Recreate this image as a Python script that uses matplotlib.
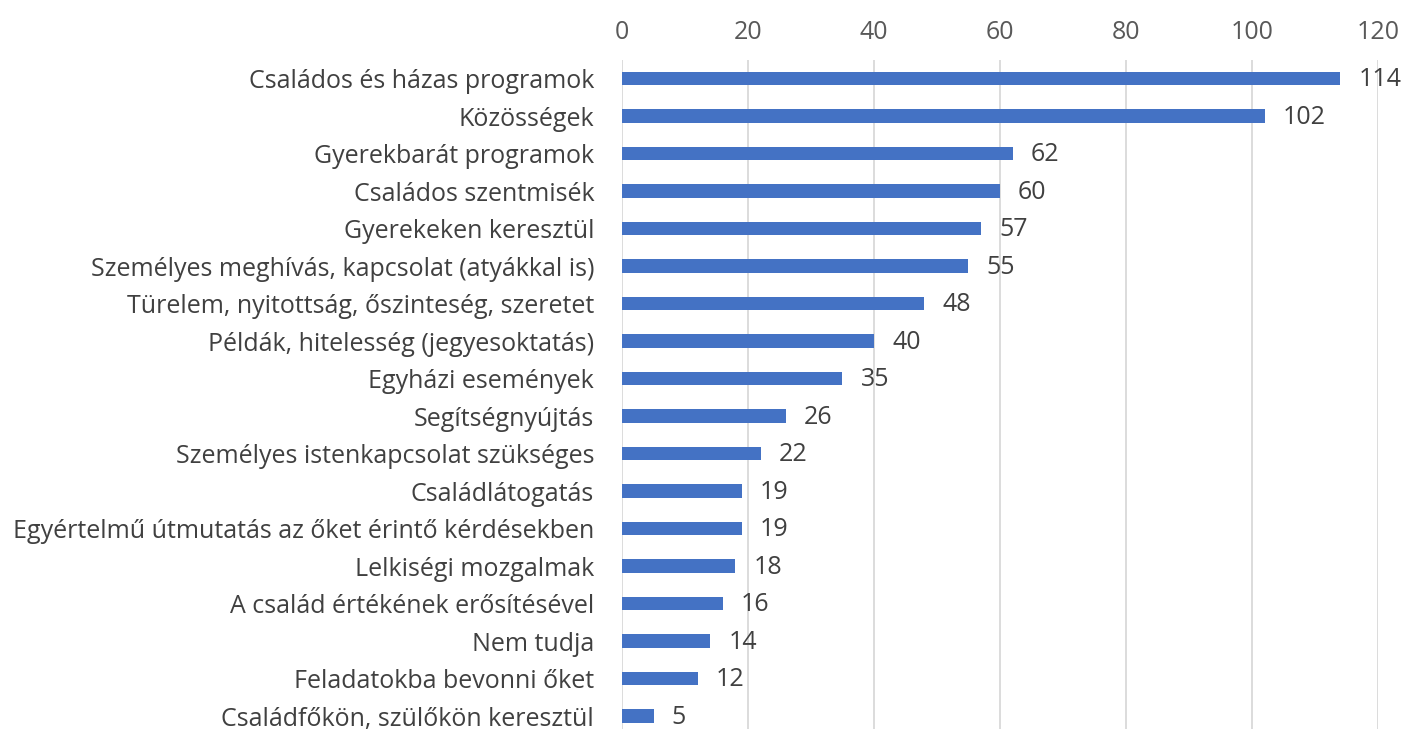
import matplotlib.pyplot as plt

categories = [
    'Családos és házas programok',
    'Közösségek',
    'Gyerekbarát programok',
    'Családos szentmisék',
    'Gyerekeken keresztül',
    'Személyes meghívás, kapcsolat (atyákkal is)',
    'Türelem, nyitottság, őszinteség, szeretet',
    'Példák, hitelesség (jegyesoktatás)',
    'Egyházi események',
    'Segítségnyújtás',
    'Személyes istenkapcsolat szükséges',
    'Családlátogatás',
    'Egyértelmű útmutatás az őket érintő kérdésekben',
    'Lelkiségi mozgalmak',
    'A család értékének erősítésével',
    'Nem tudja',
    'Feladatokba bevonni őket',
    'Családfőkön, szülőkön keresztül',
]
values = [114, 102, 62, 60, 57, 55, 48, 40, 35, 26, 22, 19, 19, 18, 16, 14, 12, 5]
xticks = [0, 20, 40, 60, 80, 100, 120]

plt.rcParams['font.family'] = ['Open Sans', 'DejaVu Sans']

fig = plt.figure(figsize=(14.14, 7.29), dpi=100)
ax = fig.add_axes([0.4399, -0.008, 0.5346, 0.9259])

ypos = list(range(len(categories)))
ax.barh(ypos, values, height=0.36, color='#4472C4', zorder=3)
for y, v in zip(ypos, values):
    ax.annotate(str(v), (v, y), xytext=(13, -1), textcoords='offset points',
                ha='left', va='center', fontsize=18, color='#404040', zorder=4)

ax.set_ylim(len(categories) - 0.5, -0.5)
ax.set_xlim(0, 120)
ax.set_xticks(xticks)
ax.set_yticks(ypos)
ax.set_yticklabels(categories)
ax.xaxis.tick_top()
ax.tick_params(axis='x', length=0, pad=11, labelsize=18, labelcolor='#595959')
ax.tick_params(axis='y', length=0, pad=20, labelsize=18, labelcolor='#404040')
ax.grid(axis='x', color='#D9D9D9', linewidth=1.3, zorder=0)
for s in ax.spines.values():
    s.set_visible(False)

fig.savefig('out.png', dpi=100)
